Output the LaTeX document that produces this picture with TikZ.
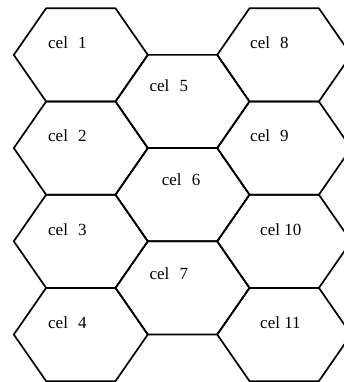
\documentclass[tikz,border=0pt]{standalone}
\usepackage{fontspec}
\setmainfont{Liberation Serif}
\begin{document}
\begin{tikzpicture}[x=1pt,y=-1pt,
  hexline/.style={draw=black,line width=1.7pt,line join=round},
  cellabel/.style={anchor=base west,inner sep=0pt,font=\fontsize{17}{20}\selectfont}]
\useasboundingbox (0,0) rectangle (344,382);
\clip (0,0) rectangle (344,382);
\def\hb{34.7}\def\ha{32.3}\def\hh{46.6}
% column 1 and column 3
\foreach \cx in {80.8,284.2}{
  \foreach \cy in {54.9,148.1,241.3,334.5}{
    \draw[hexline] (\cx-\hb,\cy-\hh) -- (\cx+\hb,\cy-\hh) -- (\cx+\hb+\ha,\cy)
      -- (\cx+\hb,\cy+\hh) -- (\cx-\hb,\cy+\hh) -- (\cx-\hb-\ha,\cy) -- cycle;
  }
}
% column 2
\foreach \cy in {101.5,194.7,287.9}{
  \draw[hexline] (182.5-\hb,\cy-\hh) -- (182.5+\hb,\cy-\hh) -- (182.5+\hb+\ha,\cy)
    -- (182.5+\hb,\cy+\hh) -- (182.5-\hb,\cy+\hh) -- (182.5-\hb-\ha,\cy) -- cycle;
}
\node[cellabel] (c1) at (48,48.3) {cel\hspace{0.6em}1};
\node[cellabel] (c2) at (48,141.7) {cel\hspace{0.6em}2};
\node[cellabel] (c3) at (48,235.3) {cel\hspace{0.6em}3};
\node[cellabel] (c4) at (48,328.7) {cel\hspace{0.6em}4};
\node[cellabel] (c5) at (149.3,91.7) {cel\hspace{0.6em}5};
\node[cellabel] (c6) at (161.7,185) {cel\hspace{0.6em}6};
\node[cellabel] (c7) at (149.3,279.3) {cel\hspace{0.6em}7};
\node[cellabel] (c8) at (250,48.3) {cel\hspace{0.6em}8};
\node[cellabel] (c9) at (250,141.3) {cel\hspace{0.6em}9};
\node[cellabel] (c10) at (260,235.3) {cel 10};
\node[cellabel] (c11) at (260,328.7) {cel 11};
\end{tikzpicture}
\end{document}
